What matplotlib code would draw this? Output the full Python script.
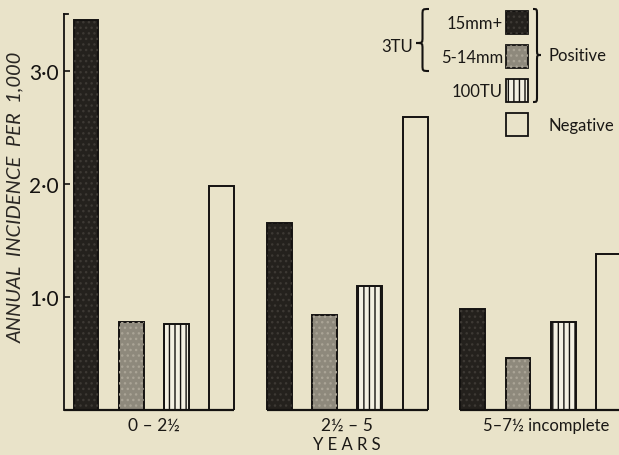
import matplotlib.pyplot as plt
from matplotlib.patches import Rectangle, PathPatch
from matplotlib.path import Path

groups = ['0 – 2½', '2½ – 5', '5–7½ incomplete']
series = ['15mm+', '5-14mm', '100TU', 'Negative']
mm15 = [3.45, 1.65, 0.89]
mm5_14 = [0.78, 0.84, 0.46]
tu100 = [0.76, 1.10, 0.78]
negative = [1.98, 2.59, 1.38]
yticks = [1.0, 2.0, 3.0]
ytick_labels = ['1·0', '2·0', '3·0']

bg = '#e9e3c9'
face = ['#24211d', '#8e897c', '#f3f0e2', bg]
hatch = [None, None, '|||', None]
speck = ['#3d3934', '#aaa496']

plt.rcParams['font.family'] = ['Lato', 'DejaVu Sans']
plt.rcParams['hatch.linewidth'] = 1.0

W, H = 619, 456
fig = plt.figure(figsize=(W / 100, H / 100), dpi=100, facecolor=bg)
ax = fig.add_axes([64 / W, 45 / H, (W - 64) / W, 396 / H])
ax.set_facecolor(bg)

gap = 4.27
width = 0.55
values = [mm15, mm5_14, tu100, negative]
for i, vals in enumerate(values):
    xs = [g * gap + i for g in range(len(groups))]
    ax.bar(xs, vals, width, color=face[i], edgecolor='#141210', linewidth=1.4,
           hatch=hatch[i], zorder=2)
    if i < 2:
        # speckle on the inked bars
        ax.bar(xs, vals, width, color='none', edgecolor=speck[i],
               hatch='...', linewidth=0, zorder=3)

ax.set_xlim(-0.486, 11.77)
ax.set_ylim(0, 3.5)

# baseline pieces under each group
for g in range(len(groups)):
    x0 = g * gap - width / 2
    x1 = g * gap + 3 + width / 2
    if g == 0:
        x0 = -0.486
    ax.plot([x0, x1], [0, 0], color='#141210', lw=1.6, zorder=4, clip_on=False,
            solid_capstyle='butt')

for s in ['top', 'right', 'bottom']:
    ax.spines[s].set_visible(False)
ax.spines['left'].set_linewidth(1.3)
ax.spines['left'].set_color('#141210')
ax.plot([-0.486, -0.40], [3.5, 3.5], color='#141210', lw=1.3, clip_on=False)

ax.set_yticks(yticks)
ax.set_yticklabels(ytick_labels, fontsize=15)
ax.tick_params(axis='y', direction='in', length=4, width=1.2, pad=4, colors='#141210')
ax.set_xticks([])
ax.set_ylabel('ANNUAL  INCIDENCE  PER  1,000', fontsize=14.5, style='italic',
              color='#2a2723')
ax.yaxis.set_label_coords(-0.072, 0.54)

for g, name in enumerate(groups):
    xc = g * gap + 1.5
    fs = 12.5
    if g == 2:
        xc += 0.12
        fs = 12
    ax.text(xc, -0.13, name, ha='center', va='center', fontsize=fs, color='#1a1815')
ax.text(gap + 1.5, -0.3, 'Y E A R S', ha='center', va='center', fontsize=12,
        color='#1a1815')


# legend drawn in pixel positions of the figure
def fx(x):
    return x / W


def fy(y):
    return 1 - y / H


def brace(xtip, xpoint, ytop, ybot, ymid):
    xm = (xtip + xpoint) / 2
    q = 6
    pts = [(xtip, ytop), (xm, ytop), (xm, ytop), (xm, ytop + q),
           (xm, ymid - q),
           (xm, ymid), (xm, ymid), (xpoint, ymid),
           (xm, ymid), (xm, ymid), (xm, ymid + q),
           (xm, ybot - q),
           (xm, ybot), (xm, ybot), (xtip, ybot)]
    codes = [Path.MOVETO, Path.CURVE4, Path.CURVE4, Path.CURVE4,
             Path.LINETO,
             Path.CURVE4, Path.CURVE4, Path.CURVE4,
             Path.CURVE4, Path.CURVE4, Path.CURVE4,
             Path.LINETO,
             Path.CURVE4, Path.CURVE4, Path.CURVE4]
    p = Path([(fx(a), fy(b)) for a, b in pts], codes)
    fig.add_artist(PathPatch(p, fc='none', ec='#141210', lw=1.5, transform=fig.transFigure))


box_y = [12, 46, 80, 114]
for i, name in enumerate(series):
    top = box_y[i]
    r = Rectangle((fx(506), fy(top + 23)), 22 / W, 23 / H, transform=fig.transFigure,
                  fc=face[i], ec='#141210', lw=1.3, hatch=hatch[i])
    fig.add_artist(r)
    if i < 2:
        fig.add_artist(Rectangle((fx(506), fy(top + 23)), 22 / W, 23 / H,
                                 transform=fig.transFigure, fc='none',
                                 ec=speck[i], lw=0, hatch='...'))
    if i < 3:
        fig.text(fx(503), fy(top + 12), name, ha='right', va='center', fontsize=12,
                 color='#1a1815')
fig.text(fx(548), fy(126), 'Negative', ha='left', va='center', fontsize=12, color='#1a1815')
fig.text(fx(548), fy(56), 'Positive', ha='left', va='center', fontsize=12, color='#1a1815')
fig.text(fx(413), fy(47), '3TU', ha='right', va='center', fontsize=12, color='#1a1815')
brace(429, 416, 10, 72, 44)
brace(533, 541, 10, 103, 56)

plt.savefig('out.png', dpi=100, facecolor=bg)
